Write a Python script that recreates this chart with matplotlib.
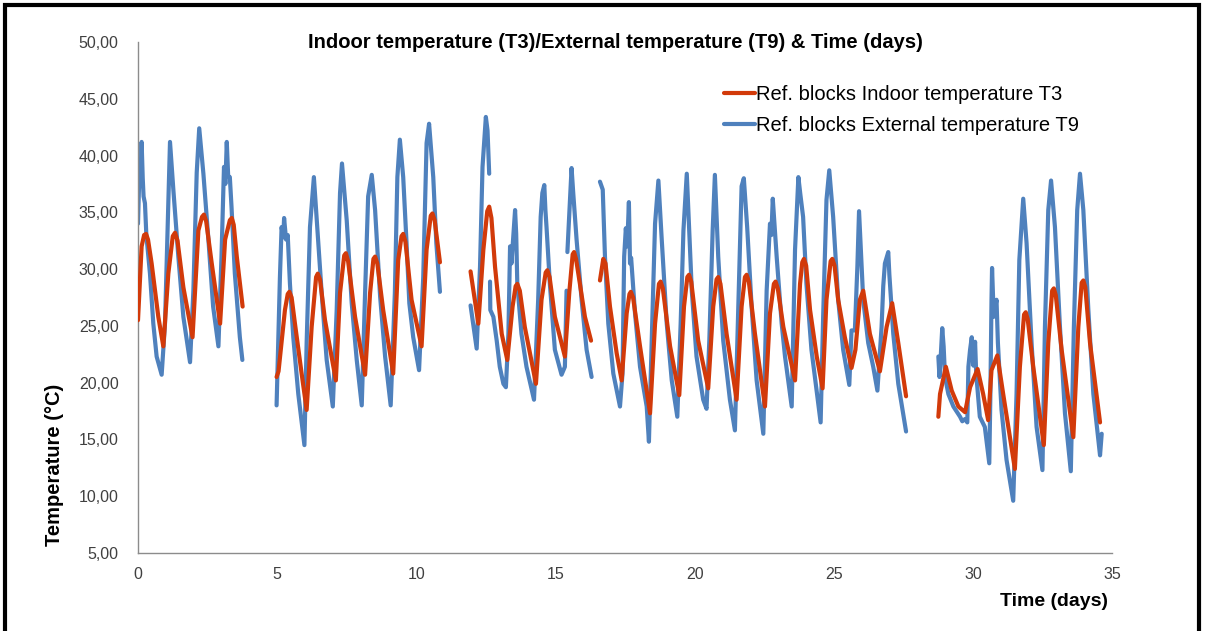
import numpy as np
import matplotlib
matplotlib.use("Agg")
import matplotlib.pyplot as plt
from matplotlib.patches import Rectangle

nan = np.nan

# External temperature T9 (blue) — segments separated by NaN gaps
t9_days = [
    0.00, 0.05, 0.08, 0.13, 0.17, 0.20, 0.25, 0.30, 0.43, 0.55, 0.67, 0.85, 0.97, 1.07, 1.15, 1.27, 1.45, 1.63, 1.87,
    1.99, 2.11, 2.20, 2.35, 2.53, 2.70, 2.89, 3.00, 3.09, 3.14, 3.19, 3.24, 3.30, 3.36, 3.48, 3.66, 3.75, 3.80,
    4.98, 5.10, 5.16, 5.22, 5.25, 5.32, 5.38, 5.46, 5.58, 5.76, 5.98, 6.06, 6.18, 6.32, 6.44, 6.60, 6.78, 7.00,
    7.14, 7.26, 7.33, 7.50, 7.68, 7.86, 8.04, 8.16, 8.27, 8.40, 8.52, 8.70, 8.88, 9.08, 9.23, 9.32, 9.41, 9.53,
    9.65, 9.75, 9.89, 10.10, 10.25, 10.37, 10.46, 10.61, 10.72, 10.85, 10.90,
    11.95, 12.17, 12.29, 12.38, 12.50, 12.56, 12.62, 12.63,
    12.65, 12.66, 12.77, 12.89, 13.00, 13.13, 13.22, 13.31, 13.37, 13.42, 13.49, 13.55, 13.59, 13.63, 13.78, 13.96,
    14.23, 14.38, 14.47, 14.53, 14.60, 14.64, 14.68, 14.80, 14.98, 15.22, 15.34, 15.40, 15.41,
    15.43, 15.58, 15.64, 15.76, 15.94, 16.12, 16.30, 16.40,
    16.60, 16.70, 16.78, 16.90, 17.08, 17.32, 17.41, 17.47, 17.53, 17.58, 17.64, 17.68, 17.72, 17.86, 18.04, 18.28,
    18.36, 18.46, 18.58, 18.70, 18.82, 19.00, 19.18, 19.38, 19.50, 19.60, 19.72, 19.78, 19.90, 20.07, 20.31, 20.43,
    20.53, 20.65, 20.73, 20.85, 21.03, 21.27, 21.45, 21.57, 21.69, 21.77, 21.89, 22.05, 22.23, 22.47, 22.59, 22.71,
    22.76, 22.81, 22.95, 23.13, 23.25, 23.49, 23.61, 23.73, 23.80, 23.90, 24.02, 24.20, 24.53, 24.62, 24.74, 24.84,
    24.98, 25.16, 25.34, 25.56, 25.64, 25.76, 25.85, 25.91, 25.95, 26.06, 26.24, 26.42, 26.57, 26.72, 26.78, 26.84,
    26.96, 27.00, 27.14, 27.32, 27.60, 27.70,
    28.76, 28.80, 28.85, 28.90, 28.95, 29.00, 29.12, 29.30, 29.54, 29.62, 29.72, 29.80, 29.84, 29.90, 29.96, 30.02,
    30.08, 30.12, 30.25, 30.43, 30.59, 30.63, 30.67, 30.69, 30.75, 30.85, 30.90, 31.03, 31.21, 31.45, 31.57, 31.67,
    31.81, 31.93, 32.11, 32.29, 32.50, 32.59, 32.71, 32.81, 32.95, 33.13, 33.31, 33.52, 33.63, 33.75, 33.85, 33.97,
    34.15, 34.33, 34.57, 34.63,
]
t9_vals = [
    34.0, 38.5, 37.5, 41.2, 38.0, 36.4, 35.8, 33.0, 29.6, 25.2, 22.3, 20.7, 25.2, 34.0, 41.2, 37.0, 31.1, 25.8, 21.8,
    28.1, 38.5, 42.4, 38.4, 32.6, 26.7, 23.2, 31.1, 39.0, 37.5, 41.2, 38.2, 38.1, 35.5, 29.6, 24.0, 22.0, nan,
    18.0, 29.3, 33.7, 32.8, 34.5, 32.6, 33.0, 28.7, 24.0, 19.0, 14.5, 23.5, 33.7, 38.1, 33.7, 27.9, 22.0, 17.9,
    26.4, 36.7, 39.3, 34.3, 27.0, 22.0, 18.0, 27.9, 36.4, 38.3, 35.2, 27.6, 22.3, 18.0, 27.9, 38.1, 41.4, 38.1,
    32.3, 27.0, 24.0, 21.1, 29.3, 41.1, 42.8, 38.1, 32.3, 28.0, nan,
    26.8, 23.0, 30.2, 39.0, 43.4, 42.2, 38.4, nan,
    28.9, 26.4, 25.8, 23.7, 21.4, 19.9, 19.6, 24.3, 32.0, 30.5, 33.1, 35.2, 33.1, 28.7, 24.3, 21.4,
    18.5, 27.3, 34.6, 36.7, 37.4, 35.2, 33.7, 28.7, 22.9, 20.7, 21.4, 28.1, nan,
    31.5, 38.9, 36.7, 32.6, 27.3, 22.9, 20.5, nan,
    37.7, 37.0, 31.1, 25.2, 20.8, 17.9, 20.8, 31.1, 33.6, 32.0, 35.9, 30.5, 31.0, 26.1, 21.4, 17.9,
    14.8, 23.7, 34.0, 37.8, 32.6, 25.2, 20.2, 17.0, 25.2, 33.4, 38.4, 35.0, 28.1, 22.3, 18.5, 17.7,
    23.7, 33.4, 38.3, 31.1, 23.7, 18.5, 15.8, 26.7, 37.3, 38.0, 33.7, 26.7, 20.2, 15.5, 28.1, 34.0,
    33.0, 36.2, 31.1, 25.2, 22.3, 17.9, 31.7, 38.1, 36.6, 34.6, 28.7, 22.9, 16.5, 25.8, 36.1, 38.7,
    34.6, 27.3, 22.9, 19.8, 24.6, 24.6, 30.2, 35.1, 33.0, 27.3, 23.5, 21.4, 19.3, 24.9, 28.5, 30.5,
    31.5, 29.5, 24.3, 19.9, 15.7, nan,
    22.3, 20.5, 22.5, 24.8, 23.2, 20.5, 19.0, 17.9, 17.0, 16.6, 16.8, 16.5, 21.4, 22.9, 24.0, 21.5,
    23.6, 20.8, 17.0, 16.1, 12.9, 19.0, 27.3, 30.1, 25.8, 27.3, 23.5, 17.6, 13.2, 9.6, 19.0, 30.8,
    36.2, 32.3, 23.5, 16.1, 12.3, 24.9, 35.2, 37.8, 33.7, 24.9, 17.3, 12.2, 24.9, 35.2, 38.4, 35.2,
    26.4, 19.0, 13.6, 15.5,
]

# Indoor temperature T3 (red)
t3_days = [
    0.00, 0.13, 0.22, 0.29, 0.36, 0.49, 0.73, 0.91, 1.09, 1.25, 1.33, 1.42, 1.63, 1.96, 2.17, 2.30, 2.37, 2.45, 2.65,
    2.95, 3.13, 3.30, 3.37, 3.44, 3.55, 3.76, 3.80,
    4.98, 5.05, 5.28, 5.38, 5.44, 5.52, 5.64, 5.88, 6.06, 6.24, 6.40, 6.46, 6.54, 6.72, 7.11, 7.26, 7.41, 7.47, 7.55,
    7.80, 8.16, 8.34, 8.46, 8.52, 8.60, 8.81, 9.17, 9.35, 9.47, 9.53, 9.61, 9.83, 10.19, 10.37, 10.52, 10.58, 10.66,
    10.85, 10.90,
    11.95, 12.23, 12.41, 12.55, 12.62, 12.70, 12.83, 13.07, 13.27, 13.46, 13.57, 13.63, 13.72, 13.90, 14.30, 14.50,
    14.65, 14.71, 14.79, 14.98, 15.34, 15.50, 15.62, 15.67, 15.74, 15.88, 16.06, 16.28, 16.40,
    16.60, 16.72, 16.80, 16.96, 17.20, 17.38, 17.56, 17.66, 17.71, 17.79, 18.04, 18.40, 18.58, 18.72, 18.78, 18.86,
    19.12, 19.45, 19.62, 19.74, 19.80, 19.88, 20.13, 20.49, 20.67, 20.79, 20.85, 20.93, 21.15, 21.51, 21.69, 21.81,
    21.87, 21.95, 22.17, 22.53, 22.71, 22.85, 22.91, 22.99, 23.19, 23.61, 23.79, 23.87, 23.93, 24.01, 24.15, 24.39,
    24.60, 24.74, 24.89, 24.95, 25.03, 25.16, 25.40, 25.64, 25.78, 25.94, 26.06, 26.30, 26.66, 26.90, 27.10, 27.32,
    27.60, 27.70,
    28.76, 28.82, 29.03, 29.24, 29.48, 29.72, 29.90, 30.17, 30.37, 30.55, 30.67, 30.88, 31.09, 31.33, 31.51, 31.69,
    31.84, 31.90, 31.97, 32.17, 32.55, 32.71, 32.85, 32.91, 32.98, 33.19, 33.61, 33.79, 33.91, 33.97, 34.04, 34.21,
    34.57,
]
t3_vals = [
    25.5, 32.0, 33.0, 33.1, 32.6, 30.5, 25.8, 23.2, 29.6, 32.9, 33.2, 32.5, 28.4, 24.0, 33.4, 34.6, 34.8, 34.2, 30.5,
    25.2, 32.6, 34.3, 34.5, 33.9, 31.1, 26.7, nan,
    20.5, 21.0, 26.4, 27.8, 28.0, 27.5, 25.2, 20.8, 17.6, 24.9, 29.3, 29.6, 29.1, 25.5, 20.2, 27.9, 31.2, 31.4, 30.7,
    25.8, 20.7, 27.9, 30.9, 31.1, 30.5, 26.4, 20.8, 30.8, 32.9, 33.1, 32.4, 27.3, 23.2, 31.7, 34.7, 34.9, 34.3,
    30.6, nan,
    29.8, 25.2, 31.7, 35.1, 35.5, 34.5, 30.2, 24.3, 22.0, 26.7, 28.5, 28.7, 28.1, 24.9, 19.9, 27.3,
    29.7, 29.9, 29.3, 25.8, 22.3, 28.0, 31.3, 31.5, 30.9, 28.7, 25.8, 23.7, nan,
    29.0, 30.9, 30.5, 26.7, 22.6, 20.2, 26.1, 27.8, 28.0, 27.5, 23.2, 17.3, 25.2, 28.7, 28.9, 28.3,
    23.2, 18.9, 26.7, 29.3, 29.5, 28.9, 23.7, 19.5, 26.7, 29.1, 29.3, 28.7, 24.3, 18.5, 26.7, 29.3,
    29.5, 28.9, 24.3, 17.9, 26.1, 28.7, 28.9, 28.3, 24.9, 20.2, 28.7, 30.6, 30.9, 30.3, 26.4, 22.3,
    19.5, 27.3, 30.7, 30.9, 30.3, 27.3, 24.0, 21.3, 22.9, 27.3, 28.1, 24.3, 21.0, 24.9, 27.0, 23.5,
    18.8, nan,
    17.0, 19.0, 21.4, 19.3, 17.9, 17.4, 19.6, 21.2, 19.0, 16.7, 21.1, 22.4, 19.0, 15.2, 12.4, 21.4,
    26.0, 26.2, 25.6, 21.4, 14.5, 23.5, 28.1, 28.3, 27.7, 22.9, 15.2, 24.9, 28.8, 29.0, 28.4, 23.5,
    16.5,
]

x_ticks = [0, 5, 10, 15, 20, 25, 30, 35]
y_ticks = [5, 10, 15, 20, 25, 30, 35, 40, 45, 50]
y_tick_labels = ["5,00", "10,00", "15,00", "20,00", "25,00", "30,00", "35,00", "40,00", "45,00", "50,00"]

label_t3 = "Ref. blocks Indoor temperature T3"
label_t9 = "Ref. blocks External temperature T9"
title = "Indoor temperature (T3)/External temperature (T9) & Time (days)"

plt.rcParams['font.family'] = ['Liberation Sans', 'DejaVu Sans']

fig = plt.figure(figsize=(12.06, 6.31), dpi=100)
ax = fig.add_axes([138/1206, 78/631, (1112-138)/1206, (553-42)/631])

RED = '#D23A0A'
BLUE = '#4F81BD'
ax.plot(t3_days, t3_vals, color=RED, lw=3.0, label=label_t3, solid_joinstyle='round', solid_capstyle='round', zorder=3)
ax.plot(t9_days, t9_vals, color=BLUE, lw=3.0, label=label_t9, solid_joinstyle='round', solid_capstyle='round', zorder=2)

ax.set_xlim(0, 35)
ax.set_ylim(5, 50)
ax.set_xticks(x_ticks)
ax.set_xticklabels([str(v) for v in x_ticks])
ax.set_yticks(y_ticks)
ax.set_yticklabels(y_tick_labels)
ax.tick_params(axis='both', length=0, labelsize=11.5, labelcolor='#404040', pad=10)
ax.tick_params(axis='y', pad=14)
for s in ['top', 'right']:
    ax.spines[s].set_visible(False)
for s in ['left', 'bottom']:
    ax.spines[s].set_color('#8C8C8C')
    ax.spines[s].set_linewidth(1.0)

h, l = ax.get_legend_handles_labels()
leg = ax.legend(h, l, loc='upper left', bbox_to_anchor=((716-138)/974, (553-77)/511),
                frameon=False, fontsize=14.5, handlelength=1.55, handletextpad=0.05,
                labelspacing=0.6, borderaxespad=0)

fig.text(615/1206, 1-42/631, title, ha='center', va='center', fontsize=14.5, fontweight='bold')
fig.text(55/1206, 1-465/631, "Temperature (°C)", ha='center', va='center', rotation=90,
         fontsize=14.5, fontweight='bold')
fig.text(1054/1206, 1-601/631, "Time (days)", ha='center', va='center', fontsize=14, fontweight='bold')

fig.patches.append(Rectangle((5/1206, -0.02), 1194/1206, 1.0 - 5/631 + 0.02, transform=fig.transFigure,
                             fill=False, edgecolor='black', linewidth=3.0, zorder=10))

fig.savefig("out.png", dpi=100)
